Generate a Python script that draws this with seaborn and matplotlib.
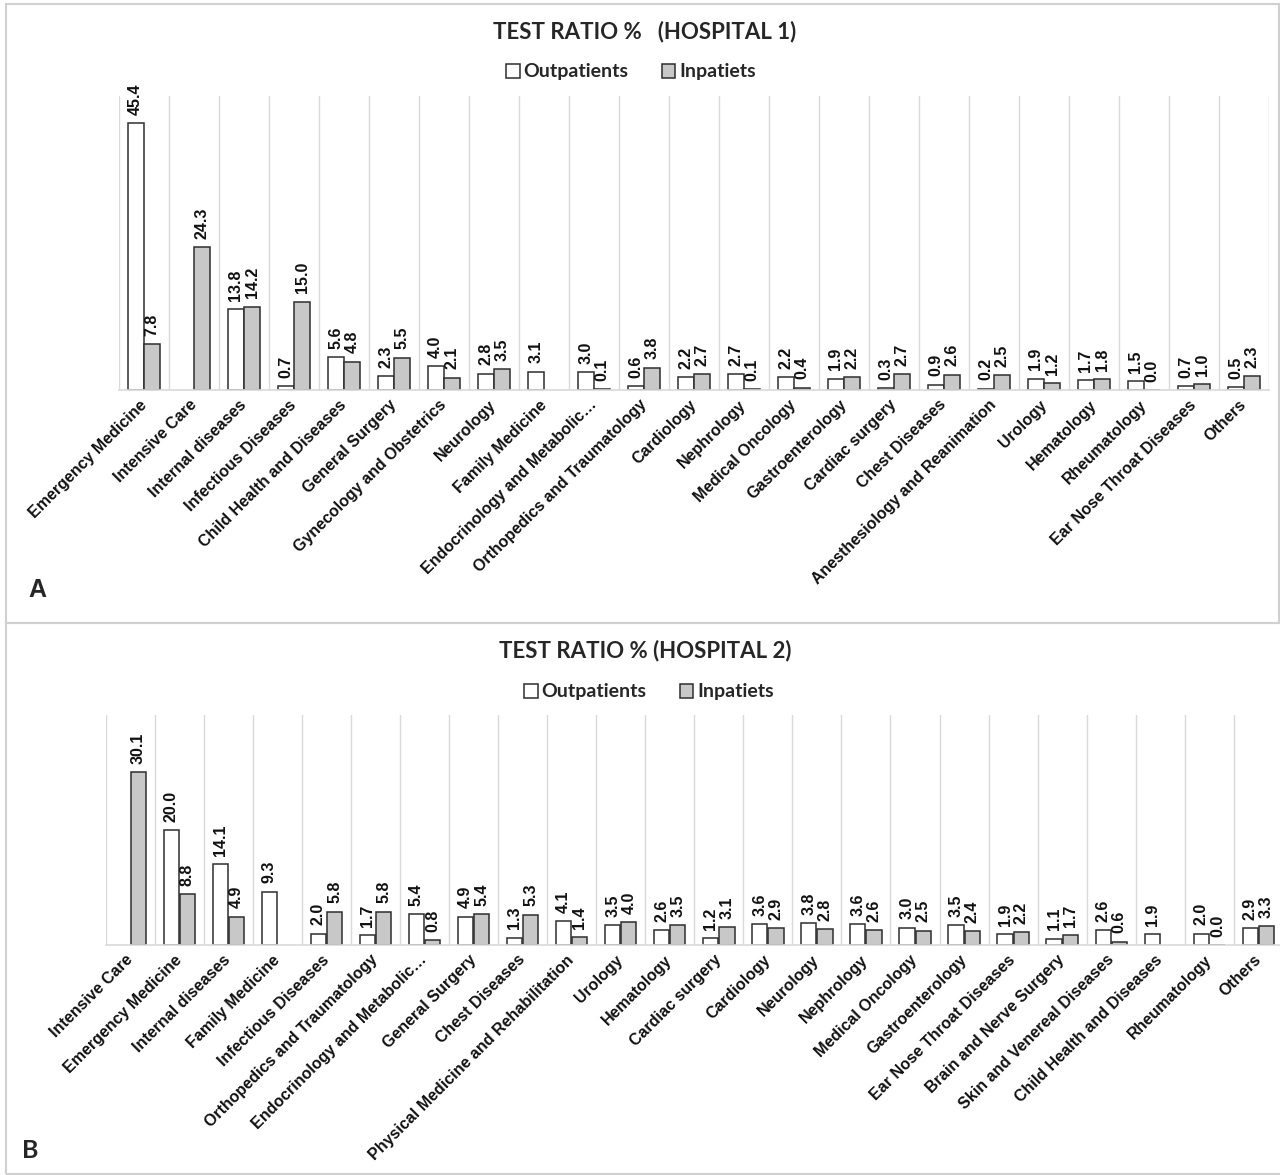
import numpy as np
import pandas as pd
import matplotlib
matplotlib.use("Agg")
import matplotlib.pyplot as plt
from matplotlib.patches import Rectangle
import seaborn as sns

# ---- data -------------------------------------------------------------
series_names = ["Outpatients", "Inpatiets"]

h1_departments = [
    "Emergency Medicine", "Intensive Care", "Internal diseases",
    "Infectious Diseases", "Child Health and Diseases", "General Surgery",
    "Gynecology and Obstetrics", "Neurology", "Family Medicine",
    "Endocrinology and Metabolic\u2026", "Orthopedics and Traumatology",
    "Cardiology", "Nephrology", "Medical Oncology", "Gastroenterology",
    "Cardiac surgery", "Chest Diseases", "Anesthesiology and Reanimation",
    "Urology", "Hematology", "Rheumatology", "Ear Nose Throat Diseases",
    "Others",
]
h1_outpatients = [45.4, np.nan, 13.8, 0.7, 5.6, 2.3, 4.0, 2.8, 3.1, 3.0, 0.6,
                  2.2, 2.7, 2.2, 1.9, 0.3, 0.9, 0.2, 1.9, 1.7, 1.5, 0.7, 0.5]
h1_inpatients = [7.8, 24.3, 14.2, 15.0, 4.8, 5.5, 2.1, 3.5, np.nan, 0.1, 3.8,
                 2.7, 0.1, 0.4, 2.2, 2.7, 2.6, 2.5, 1.2, 1.8, 0.0, 1.0, 2.3]

h2_departments = [
    "Intensive Care", "Emergency Medicine", "Internal diseases",
    "Family Medicine", "Infectious Diseases", "Orthopedics and Traumatology",
    "Endocrinology and Metabolic\u2026", "General Surgery", "Chest Diseases",
    "Physical Medicine and Rehabilitation", "Urology", "Hematology",
    "Cardiac surgery", "Cardiology", "Neurology", "Nephrology",
    "Medical Oncology", "Gastroenterology", "Ear Nose Throat Diseases",
    "Brain and Nerve Surgery", "Skin and Venereal Diseases",
    "Child Health and Diseases", "Rheumatology", "Others",
]
h2_outpatients = [np.nan, 20.0, 14.1, 9.3, 2.0, 1.7, 5.4, 4.9, 1.3, 4.1, 3.5,
                  2.6, 1.2, 3.6, 3.8, 3.6, 3.0, 3.5, 1.9, 1.1, 2.6, 1.9, 2.0,
                  2.9]
h2_inpatients = [30.1, 8.8, 4.9, np.nan, 5.8, 5.8, 0.8, 5.4, 5.3, 1.4, 4.0,
                 3.5, 3.1, 2.9, 2.8, 2.6, 2.5, 2.4, 2.2, 1.7, 0.6, np.nan, 0.0,
                 3.3]

# ---- style ------------------------------------------------------------
sns.set_theme(style="white")
plt.rcParams["font.family"] = ["Liberation Sans", "DejaVu Sans"]

BAR_COLORS = {"Outpatients": "#ffffff", "Inpatiets": "#c8c8c8"}
EDGE = "#2e2e2e"
GRID = "#d9d9d9"
HEAD_FONT = ["Lato", "DejaVu Sans"]

W, H = 1280, 1175
fig = plt.figure(figsize=(W / 100, H / 100), dpi=100)


def px_axes(left, top, right, bottom):
    return fig.add_axes([left / W, 1 - bottom / H,
                         (right - left) / W, (bottom - top) / H])


def draw_panel(ax, departments, outp, inp, ymax):
    n = len(departments)
    df = pd.DataFrame({
        "Department": departments * 2,
        "Type": [series_names[0]] * n + [series_names[1]] * n,
        "Ratio": list(outp) + list(inp),
    })
    sns.barplot(data=df, x="Department", y="Ratio", hue="Type",
                order=departments, hue_order=series_names,
                palette=BAR_COLORS, saturation=1, width=0.66, gap=0.06,
                edgecolor=EDGE, linewidth=1.1, errorbar=None, ax=ax)
    handles, labels = ax.get_legend_handles_labels()
    if ax.get_legend() is not None:
        ax.get_legend().remove()

    # value labels above each bar
    for container, values in zip(ax.containers, [outp, inp]):
        for bar in container:
            xc = bar.get_x() + bar.get_width() / 2
            idx = int(round(xc))
            v = values[idx]
            if np.isnan(v):
                continue
            ax.annotate(f"{v:.1f}", (xc, v), xytext=(0, 6),
                        textcoords="offset points", rotation=90,
                        ha="center", va="bottom", fontsize=11.5,
                        fontweight="bold", color="#111111")

    ax.set_xlim(-0.5, n - 0.5)
    ax.set_ylim(0, ymax)
    ax.set_xticks(np.arange(n))
    ax.set_xticklabels(departments, rotation=45, ha="right", va="center",
                       rotation_mode="anchor", fontsize=11.5,
                       fontweight="bold", color="#111111")
    ax.set_xticks(np.arange(-0.5, n), minor=True)
    ax.grid(which="minor", axis="x", color=GRID, linewidth=1.0)
    ax.grid(which="major", visible=False)
    ax.set_axisbelow(True)
    ax.tick_params(which="both", length=0)
    ax.tick_params(axis="x", which="major", pad=9)
    ax.set_yticks([])
    ax.set_xlabel("")
    ax.set_ylabel("")
    for side in ("left", "top", "right"):
        ax.spines[side].set_visible(False)
    ax.spines["bottom"].set_color(GRID)
    ax.spines["bottom"].set_linewidth(1.2)
    ax.patch.set_alpha(0)
    return handles, labels


# ---- panel frames -----------------------------------------------------
for (x0, y0, x1, y1) in [(6, 4, 1279, 623), (6, 623, 1290, 1174)]:
    fig.add_artist(Rectangle((x0 / W, 1 - y1 / H), (x1 - x0) / W,
                             (y1 - y0) / H, transform=fig.transFigure,
                             fill=False, edgecolor="#d0d0d0", linewidth=1.5))

LEGEND_KW = dict(loc="center", ncol=2, frameon=False, handlelength=0.7,
                 handleheight=0.7, handletextpad=0.2, columnspacing=1.7,
                 prop={"family": HEAD_FONT, "weight": "bold", "size": 14})

# ---- panel A ----------------------------------------------------------
ax1 = px_axes(119, 96, 1269, 390)
handles, labels = draw_panel(ax1, h1_departments, h1_outpatients,
                             h1_inpatients, 50)
fig.text(645 / W, 1 - 32 / H, "TEST RATIO %   (HOSPITAL 1)", ha="center",
         va="center", fontsize=16, fontweight="bold", family=HEAD_FONT)
fig.legend(handles, labels, bbox_to_anchor=(631 / W, 1 - 72 / H), **LEGEND_KW)
fig.text(37 / W, 1 - 590 / H, "A", ha="center", va="center", fontsize=18,
         fontweight="bold")

# ---- panel B ----------------------------------------------------------
ax2 = px_axes(105.7, 715, 105.7 + 24 * 49.05, 945)
handles, labels = draw_panel(ax2, h2_departments, h2_outpatients,
                             h2_inpatients, 40)
fig.text(645 / W, 1 - 651 / H, "TEST RATIO % (HOSPITAL 2)", ha="center",
         va="center", fontsize=16, fontweight="bold", family=HEAD_FONT)
fig.legend(handles, labels, bbox_to_anchor=(649 / W, 1 - 692 / H), **LEGEND_KW)
fig.text(30 / W, 1 - 1150 / H, "B", ha="center", va="center", fontsize=18,
         fontweight="bold", family=HEAD_FONT)

fig.savefig("out.png", dpi=100, facecolor="white")
